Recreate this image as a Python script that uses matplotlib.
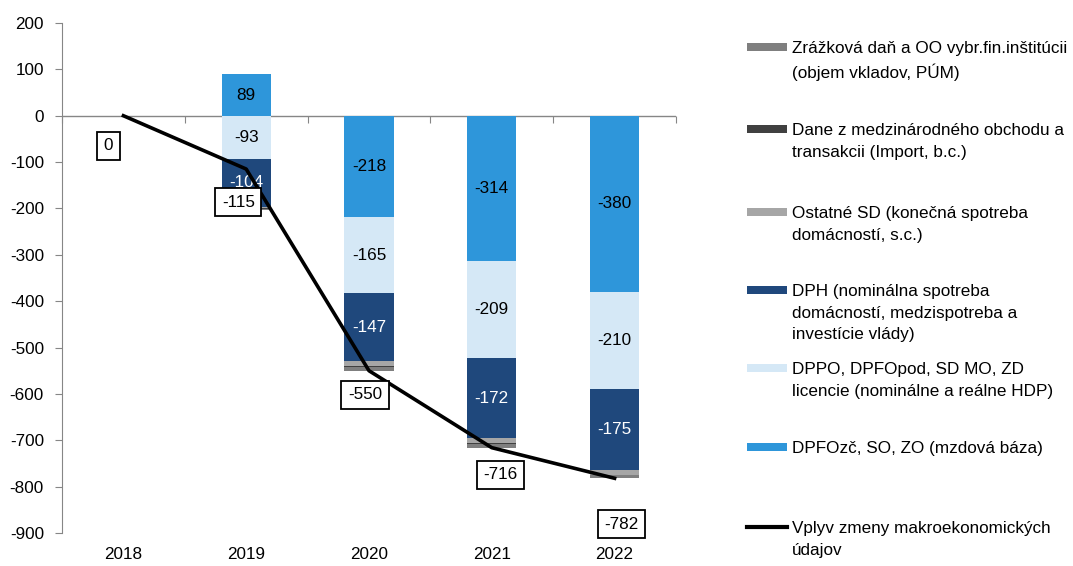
import matplotlib.pyplot as plt
from matplotlib.patches import Rectangle
from matplotlib.lines import Line2D
import numpy as np

plt.rcParams['font.family'] = ['Liberation Sans', 'DejaVu Sans']
plt.rcParams['axes.unicode_minus'] = False

years = ['2018', '2019', '2020', '2021', '2022']

# stacked components (mil. eur), order from zero outward
dpfozc = [0, 89, -218, -314, -380]
dppo = [0, -93, -165, -209, -210]
dph = [0, -104, -147, -172, -175]
ostatne = [0, -3, -9, -10, -9]
dane = [0, -1, -2, -2, -1]
zrazkova = [0, -3, -9, -9, -7]

vplyv = [0, -115, -550, -716, -782]

series = [
    (dpfozc, '#2E96DA', 'DPFOzč, SO, ZO (mzdová báza)', 'black'),
    (dppo, '#D5E8F6', 'DPPO, DPFOpod, SD MO, ZD\nlicencie (nominálne a reálne HDP)', 'black'),
    (dph, '#1F487C', 'DPH (nominálna spotreba\ndomácností, medzispotreba a\ninvestície vlády)', 'white'),
    (ostatne, '#A6A6A6', 'Ostatné SD (konečná spotreba\ndomácností, s.c.)', None),
    (dane, '#404040', 'Dane z medzinárodného obchodu a\ntransakcii (Import, b.c.)', None),
    (zrazkova, '#7F7F7F', 'Zrážková daň a OO vybr.fin.inštitúcii\n(objem vkladov, PÚM)', None),
]

W, H = 1073, 566
fig = plt.figure(figsize=(W / 100, H / 100), dpi=100)
ax = fig.add_axes([62 / W, 1 - 533 / H, 614 / W, 510 / H])

x = np.arange(len(years))
pos_bottom = np.zeros(len(years))
neg_bottom = np.zeros(len(years))
fs = 12.3

ax.axhline(0, color='#868686', lw=1, zorder=1)

for vals, color, label, tcolor in series:
    vals = np.array(vals, dtype=float)
    bottom = np.where(vals >= 0, pos_bottom, neg_bottom)
    ax.bar(x, vals, 0.4, bottom=bottom, color=color, linewidth=0, zorder=2)
    if tcolor is not None:
        for xi, v, b in zip(x, vals, bottom):
            if v != 0:
                ax.text(xi, b + v / 2, f'{int(v)}', ha='center', va='center',
                        fontsize=fs, color=tcolor, zorder=3)
    pos_bottom = pos_bottom + np.where(vals >= 0, vals, 0)
    neg_bottom = neg_bottom + np.where(vals < 0, vals, 0)

ax.plot(x, vplyv, color='black', lw=2.6, zorder=4)

# boxed labels for the line
offsets = [(-15, -30), (-8, -33), (-4, -24), (9, -27), (7, -46)]
for xi, v, (dx, dy) in zip(x, vplyv, offsets):
    ax.annotate(f'{v}', (xi, v), xytext=(dx, dy), textcoords='offset pixels',
                ha='center', va='center', fontsize=fs, zorder=5,
                bbox=dict(boxstyle='square,pad=0.38', fc='white', ec='black', lw=1.3))

ax.set_xlim(-0.5, len(years) - 0.5)
ax.set_ylim(-900, 200)
ax.set_yticks(np.arange(-900, 201, 100))
ax.tick_params(axis='y', direction='out', length=5, color='#868686', labelsize=fs, pad=8)
ax.set_xticks(x)
ax.set_xticklabels(years)
ax.tick_params(axis='x', length=0, labelsize=fs, pad=10)
for s in ['top', 'right', 'bottom']:
    ax.spines[s].set_visible(False)
ax.spines['left'].set_color('#868686')

# category-boundary ticks on the zero line
zero = ax.secondary_xaxis(900 / 1100)
zero.set_xticks(np.arange(-0.5, len(years), 1.0))
zero.set_xticklabels([])
zero.tick_params(axis='x', direction='out', length=5, color='#868686',
                 top=False, bottom=True, labeltop=False, labelbottom=False)
for s in zero.spines.values():
    s.set_visible(False)

# legend, drawn Excel-like on the right
leg_y = [47, 129, 212, 290, 368, 447, 527]
entries = [(s[2], s[1]) for s in reversed(series)]
entries.append(('Vplyv zmeny makroekonomických\núdajov', None))
for (label, color), yp in zip(entries, leg_y):
    if color is None:
        fig.add_artist(Line2D([747 / W, 787 / W], [1 - yp / H] * 2, color='black', lw=3))
    else:
        fig.add_artist(Rectangle((747 / W, 1 - (yp + 4) / H), 40 / W, 8 / H,
                                 color=color, lw=0))
    fig.text(792 / W, 1 - (yp - 6) / H, label, ha='left', va='top',
             fontsize=fs, linespacing=1.55)

fig.savefig('out.png', dpi=100)
